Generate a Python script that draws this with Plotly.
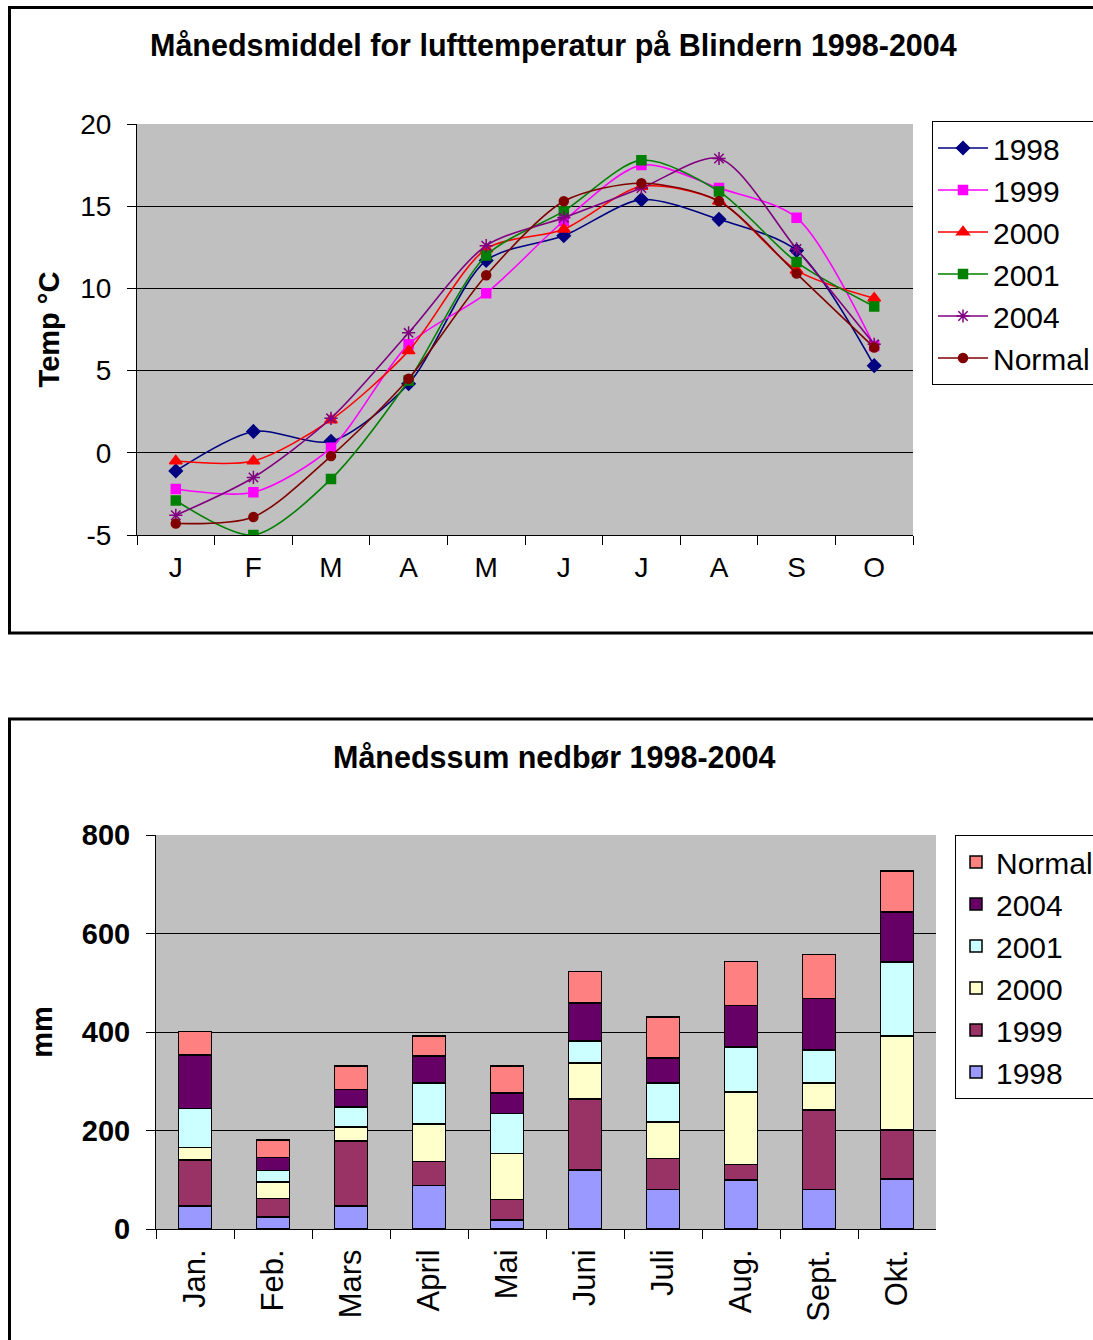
import plotly.graph_objects as go

W, H = 1093, 1340

# ---------------- data ----------------
temp_months = ["J", "F", "M", "A", "M", "J", "J", "A", "S", "O"]
t1998 = [-1.1, 1.3, 0.7, 4.2, 11.7, 13.2, 15.4, 14.2, 12.3, 5.3]
t1999 = [-2.2, -2.4, 0.3, 6.6, 9.7, 14.1, 17.5, 16.1, 14.3, 6.5]
t2000 = [-0.5, -0.5, 2.0, 6.2, 12.4, 13.6, 16.2, 15.3, 11.1, 9.4]
t2001 = [-2.9, -5.0, -1.6, 4.4, 12.0, 14.7, 17.8, 15.9, 11.6, 8.9]
t2004 = [-3.8, -1.5, 2.1, 7.3, 12.6, 14.3, 16.1, 17.9, 12.4, 6.6]
tnorm = [-4.3, -3.9, -0.2, 4.5, 10.8, 15.3, 16.4, 15.3, 10.9, 6.4]
temp_ticks = [-5, 0, 5, 10, 15, 20]
temp_tick_labels = ["-5", "0", "5", "10", "15", "20"]

rain_months = ["Jan.", "Feb.", "Mars", "April", "Mai", "Juni", "Juli", "Aug.", "Sept.", "Okt."]
p1998 = [47, 24, 47, 88, 18, 120, 80, 99, 80, 102]
p1999 = [93, 38, 132, 49, 42, 144, 63, 32, 162, 99]
p2000 = [25, 33, 28, 76, 93, 73, 74, 147, 54, 191]
p2001 = [80, 24, 41, 83, 82, 45, 79, 92, 67, 150]
p2004 = [108, 26, 35, 55, 41, 77, 51, 84, 105, 102]
pnorm = [48, 36, 48, 41, 55, 64, 83, 89, 89, 83]

FONT = "Arial, Liberation Sans, sans-serif"

def px_x(v):
    return v / W

def px_y(v):
    return 1 - v / H

fig = go.Figure()

xi = list(range(len(temp_months)))
line_series = [
    ("1998", t1998, "#000080", "diamond", 10),
    ("1999", t1999, "#FF00FF", "square", 9),
    ("2000", t2000, "#FF0000", "triangle-up", 11),
    ("2001", t2001, "#008000", "square", 9),
    ("2004", t2004, "#800080", "asterisk-open", 11),
    ("Normal", tnorm, "#800000", "circle", 9),
]
for name, vals, col, sym, sz in line_series:
    fig.add_trace(go.Scatter(
        x=xi, y=vals, name=name, mode="lines+markers",
        line=dict(color=col, width=1.6, shape="spline", smoothing=0.8),
        marker=dict(symbol=sym, size=sz, color=col, line=dict(color=col, width=1.5)),
        xaxis="x", yaxis="y", legend="legend",
    ))

bar_series = [
    ("1998", p1998, "#9999FF"),
    ("1999", p1999, "#993366"),
    ("2000", p2000, "#FFFFCC"),
    ("2001", p2001, "#CCFFFF"),
    ("2004", p2004, "#660066"),
    ("Normal", pnorm, "#FF8080"),
]
for name, vals, col in bar_series:
    fig.add_trace(go.Bar(
        x=rain_months, y=vals, name=name,
        marker=dict(color=col, line=dict(color="black", width=1.5)),
        xaxis="x2", yaxis="y2", legend="legend2",
    ))

bounds = [i - 0.5 for i in range(len(temp_months) + 1)]

fig.update_layout(
    width=W, height=H,
    margin=dict(l=0, r=0, t=0, b=0, autoexpand=False),
    paper_bgcolor="white",
    plot_bgcolor="#C0C0C0",
    font=dict(family=FONT, color="black", size=28),
    barmode="stack",
    bargap=0.58,
    showlegend=True,
    xaxis=dict(
        domain=[px_x(137), px_x(913)],
        range=[-0.5, len(temp_months) - 0.5],
        tickmode="array", tickvals=xi, ticktext=temp_months,
        ticks="", showgrid=False, zeroline=False,
        showline=True, linecolor="black", linewidth=1,
        tickfont=dict(size=28), ticklabelstandoff=7,
        minor=dict(tickmode="array", tickvals=bounds, ticks="outside", ticklen=9,
                   tickcolor="black", tickwidth=1, showgrid=False),
        anchor="y",
    ),
    yaxis=dict(
        domain=[px_y(535), px_y(124)],
        range=[-5, 20], tickmode="array", tickvals=temp_ticks, ticktext=temp_tick_labels,
        showgrid=True, gridcolor="black", gridwidth=1,
        zeroline=False, showline=True, linecolor="black", linewidth=1,
        ticks="outside", ticklen=9, tickcolor="black",
        tickfont=dict(size=28), ticklabelstandoff=10,
        title=dict(text="<b>Temp °C</b>", font=dict(size=29), standoff=12),
        anchor="x",
    ),
    xaxis2=dict(
        domain=[px_x(156), px_x(936)],
        type="category", tickson="boundaries",
        ticks="outside", ticklen=9, tickcolor="black",
        showgrid=False, zeroline=False,
        showline=True, linecolor="black", linewidth=1,
        tickangle=-90, tickfont=dict(size=31), ticklabelstandoff=7,
        anchor="y2",
    ),
    yaxis2=dict(
        domain=[px_y(1229), px_y(835)],
        range=[0, 800], dtick=200,
        showgrid=True, gridcolor="black", gridwidth=1,
        zeroline=False, showline=True, linecolor="black", linewidth=1,
        ticks="outside", ticklen=9, tickcolor="black",
        tickfont=dict(size=29, weight="bold"), ticklabelstandoff=10,
        title=dict(text="<b>mm</b>", font=dict(size=29), standoff=20),
        anchor="x2",
    ),
    legend=dict(
        x=px_x(932), y=px_y(121), xanchor="left", yanchor="top",
        bordercolor="black", borderwidth=1, bgcolor="white",
        font=dict(size=30), traceorder="normal", itemwidth=50,
        tracegroupgap=0,
    ),
    legend2=dict(
        x=px_x(955), y=px_y(835), xanchor="left", yanchor="top",
        bordercolor="black", borderwidth=1, bgcolor="white",
        font=dict(size=30), traceorder="reversed", itemwidth=30,
        tracegroupgap=0,
    ),
    annotations=[
        dict(text="<b>Månedsmiddel for lufttemperatur på Blindern 1998-2004</b>",
             x=px_x(553), y=px_y(46), xref="paper", yref="paper",
             xanchor="center", yanchor="middle", showarrow=False,
             font=dict(size=30.5)),
        dict(text="<b>Månedssum nedbør 1998-2004</b>",
             x=px_x(554), y=px_y(757), xref="paper", yref="paper",
             xanchor="center", yanchor="middle", showarrow=False,
             font=dict(size=30.5)),
    ],
    shapes=[
        dict(type="rect", xref="paper", yref="paper",
             x0=px_x(9.5), x1=1.05, y0=px_y(633), y1=px_y(7.5),
             line=dict(color="black", width=3), fillcolor="rgba(0,0,0,0)", layer="below"),
        dict(type="rect", xref="paper", yref="paper",
             x0=px_x(9.5), x1=1.05, y0=-0.05, y1=px_y(719),
             line=dict(color="black", width=3), fillcolor="rgba(0,0,0,0)", layer="below"),
    ],
)

fig.write_html("out.html")
